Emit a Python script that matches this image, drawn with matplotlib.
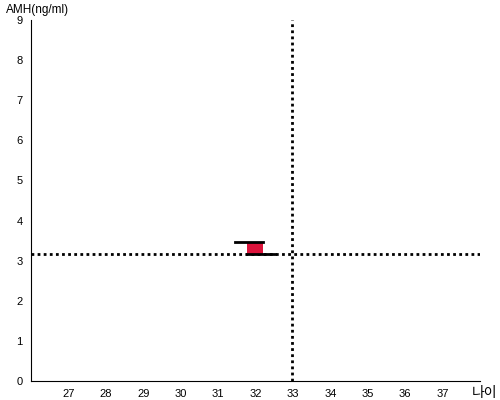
import matplotlib
matplotlib.use('Agg')
from matplotlib import pyplot as plt
from matplotlib.patches import Rectangle

plt.rcParams['font.family'] = ['Liberation Sans', 'Noto Sans CJK KR', 'DejaVu Sans']

# data
x_ticks = [27, 28, 29, 30, 31, 32, 33, 34, 35, 36, 37]
y_ticks = [0, 1, 2, 3, 4, 5, 6, 7, 8, 9]
box_x = [31.78, 32.2]        # red box left / right (age)
box_y = [3.17, 3.47]         # red box bottom / top (AMH)
top_line_x = [31.45, 32.2]
bottom_line_x = [31.78, 32.52]
ref_age = 32.97
ref_amh = 3.17

fig = plt.figure(figsize=(5, 4), dpi=100)
ax = fig.add_axes([0.062, 0.0475, 0.898, 0.9025])
ax.set_xlim(26, 38)
ax.set_ylim(0, 9)

ax.add_patch(Rectangle((box_x[0], box_y[0]), box_x[1] - box_x[0], box_y[1] - box_y[0],
                       facecolor='#dc143c', edgecolor='none', zorder=3))
ax.plot(top_line_x, [box_y[1], box_y[1]], color='black', lw=2, zorder=4)
ax.plot(bottom_line_x, [box_y[0], box_y[0]], color='black', lw=2, zorder=4)

ax.axhline(ref_amh, color='black', lw=2, linestyle=(0, (1, 1.2)), zorder=2)
ax.axvline(ref_age, color='black', lw=2, linestyle=(0, (1, 1.2)), zorder=2)

ax.set_xticks(x_ticks)
ax.set_yticks(y_ticks)
ax.tick_params(length=0, labelsize=8, pad=6)
ax.spines['top'].set_visible(False)
ax.spines['right'].set_visible(False)

fig.text(0.012, 0.975, 'AMH(ng/ml)', fontsize=8.5, va='center', ha='left')
fig.text(0.944, 0.018, '나이', fontsize=10, va='center', ha='left',
         family=['Noto Sans CJK KR', 'DejaVu Sans'])

plt.savefig('out.png')
